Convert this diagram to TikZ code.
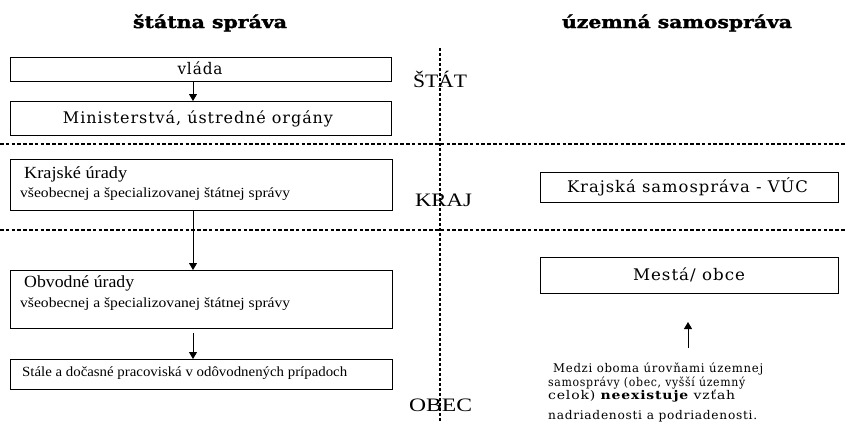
\documentclass[tikz,border=0pt]{standalone}
\usepackage{graphicx}
\usepackage{fontspec}
\setmainfont{Liberation Serif}
\newfontfamily\bxf[LetterSpace=6]{DejaVu Serif}
\newfontfamily\hdf[FakeBold=1.5]{DejaVu Serif Bold}
\usetikzlibrary{arrows.meta}
\newcommand{\fw}[2]{\resizebox{#1}{\height}{#2}}
\tikzset{
  box/.style={draw=black, line width=0.8pt, inner sep=0pt, anchor=north west},
  txt/.style={inner sep=0pt},
  hline/.style={line width=2.9pt, dash pattern=on 3.6pt off 2.2pt},
  vline/.style={line width=2.9pt, dash pattern=on 2.6pt off 2.4pt},
  arr/.style={line width=0.9pt, -{Triangle[width=8pt,length=7pt]}},
  boxtext/.style={txt, font=\bxf\fontsize{16}{18}\selectfont},
  smalltext/.style={txt, font=\fontsize{14}{16}\selectfont},
  subtitle/.style={txt, font=\fontsize{17}{20}\selectfont},
  level/.style={txt, font=\fontsize{19}{21}\selectfont},
  head/.style={txt, font=\hdf\fontsize{17}{20}\selectfont},
  para/.style={txt, font=\bxf\fontsize{12}{14}\selectfont}
}
\begin{document}
\begin{tikzpicture}[x=1pt,y=-1pt]
\fill[white] (0,0) rectangle (845,421);
\path[use as bounding box] (0,0) rectangle (845,421);

% headings
\node[head, anchor=base] (hstat) at (210,28) {\fw{154pt}{štátna správa}};
\node[head, anchor=base] (huzem) at (677,28) {\fw{230pt}{územná samospráva}};

% boxes
\node[box, minimum width=381pt, minimum height=24pt] (vlada) at (10,57) {};
\node[box, minimum width=381pt, minimum height=34pt] (mini) at (10,101) {};
\node[box, minimum width=382pt, minimum height=51pt] (kru) at (10,159) {};
\node[box, minimum width=382pt, minimum height=58pt] (obu) at (10,270) {};
\node[box, minimum width=382pt, minimum height=30pt] (stale) at (10,359) {};
\node[box, minimum width=298pt, minimum height=30pt] (vuc) at (540,172) {};
\node[box, minimum width=298pt, minimum height=36pt] (mesta) at (540,257) {};

% box texts
\node[boxtext, anchor=base] (vladat) at (200,74) {\fw{45pt}{vláda}};
\node[boxtext, anchor=base] (minit) at (198,123) {\fw{270pt}{Ministerstvá, ústredné orgány}};
\node[subtitle, anchor=base west] (krut) at (24,178) {\fw{103pt}{Krajské úrady}};
\node[smalltext, anchor=base west] (krus) at (20,197) {\fw{270pt}{všeobecnej a špecializovanej štátnej správy}};
\node[subtitle, anchor=base west] (obut) at (24,287) {\fw{110pt}{Obvodné úrady}};
\node[smalltext, anchor=base west] (obus) at (20,307) {\fw{270pt}{všeobecnej a špecializovanej štátnej správy}};
\node[smalltext, anchor=base west] (stalet) at (22,376) {\fw{325pt}{Stále a dočasné pracoviská v odôvodnených prípadoch}};
\node[boxtext, anchor=base] (vuct) at (687.5,192) {\fw{241pt}{Krajská samospráva - VÚC}};
\node[boxtext, anchor=base] (mestat) at (689,280) {\fw{112pt}{Mestá/ obce}};

% level labels
\node[level, anchor=base] (lstat) at (440,87) {\fw{54pt}{ŠTÁT}};
\node[level, anchor=base] (lkraj) at (443.5,206) {\fw{57pt}{KRAJ}};
\node[level, anchor=base] (lobec) at (440.5,411) {\fw{63pt}{OBEC}};

% paragraph
\node[para, anchor=base west] (p1) at (553,372) {\fw{210pt}{Medzi oboma úrovňami územnej}};
\node[para, anchor=base west] (p2) at (548,386) {\fw{197pt}{samosprávy (obec, vyšší územný}};
\node[para, anchor=base west] (p3) at (548,399) {\fw{187pt}{celok) {\bfseries neexistuje} vzťah}};
\node[para, anchor=base west] (p4) at (548,419) {\fw{209pt}{nadriadenosti a podriadenosti.}};

% dotted separators
\coordinate (h1a) at (0,144); \coordinate (h1b) at (845,144);
\coordinate (h2a) at (0,230); \coordinate (h2b) at (845,230);
\coordinate (vta) at (440,48); \coordinate (vtb) at (440,421);
\draw[hline] (h1a) -- (h1b);
\draw[hline] (h2a) -- (h2b);
\draw[vline] (vta) -- (vtb);

% arrows
\coordinate (ax) at (193,0);
\draw[arr] (vlada.south -| ax) -- (mini.north -| ax);
\draw[arr] (kru.south -| ax) -- (obu.north -| ax);
\draw[arr, shorten <=4pt] (obu.south -| ax) -- (stale.north -| ax);
\coordinate (upt) at (688,348);
\coordinate (uph) at (688,322);
\draw[arr] (upt) -- (uph);
\end{tikzpicture}
\end{document}
